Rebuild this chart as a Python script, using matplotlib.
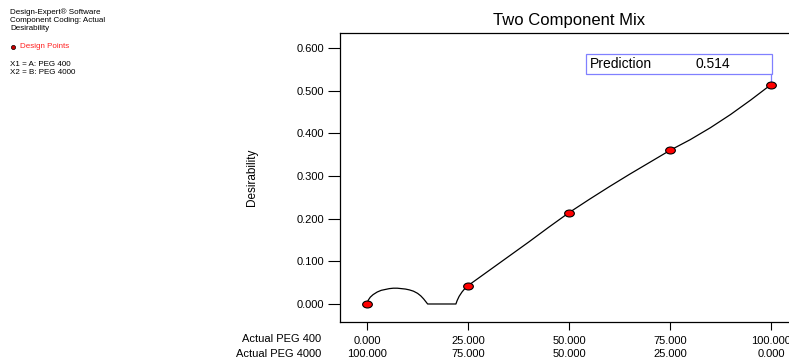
import numpy as np
import matplotlib
matplotlib.use("Agg")
import matplotlib.pyplot as plt
from matplotlib.path import Path
from matplotlib.transforms import Affine2D

plt.rcParams['font.family'] = ['Liberation Sans', 'DejaVu Sans']

# design points (A: PEG 400 %) and desirability
design_x = [0, 25, 50, 75, 100]
design_y = [0.0, 0.043, 0.214, 0.360, 0.514]

# desirability trace
curve_x = [0, 0.3, 0.8, 1.5, 2.5, 3.5, 4.5, 5.5, 6.5, 7.5, 8.5, 9.5, 10.5, 11.5,
           12.5, 13.3, 14.0, 14.5, 15.0, 18.0, 22.0, 22.3, 22.8, 23.5, 24.2, 25,
           30, 35, 40, 45, 50, 55, 60, 65, 70, 75, 80, 85, 90, 95, 100]
curve_y = [0.0, 0.009, 0.016, 0.022, 0.028, 0.032, 0.034, 0.036, 0.037, 0.037,
           0.036, 0.035, 0.033, 0.030, 0.025, 0.019, 0.012, 0.006, 0.0, 0.0, 0.0,
           0.008, 0.018, 0.028, 0.036, 0.043, 0.077, 0.111, 0.145, 0.180, 0.214,
           0.245, 0.275, 0.304, 0.332, 0.360, 0.385, 0.413, 0.444, 0.478, 0.514]

x_ticks = [0, 25, 50, 75, 100]
peg400_labels = ["0.000", "25.000", "50.000", "75.000", "100.000"]
peg4000_labels = ["100.000", "75.000", "50.000", "25.000", "0.000"]
y_ticks = [0.0, 0.1, 0.2, 0.3, 0.4, 0.5, 0.6]
prediction = 0.514

fig = plt.figure(figsize=(7.89, 3.6), dpi=100)
ax = fig.add_axes([340 / 789, 38 / 360, 458 / 789, 289 / 360])

ax.plot(curve_x, curve_y, color='black', lw=0.9, zorder=2)

ellipse = Path.unit_circle().transformed(Affine2D().scale(1.4, 1.0))
ax.plot(design_x, design_y, ls='none', marker=ellipse, markersize=7,
        markerfacecolor='#ff0000', markeredgecolor='black', markeredgewidth=0.8, zorder=4)

ax.set_xlim(-6.7, 106.7)
ax.set_ylim(-0.0422, 0.635)
ax.set_xticks(x_ticks)
ax.set_xticklabels([a + "\n" + b for a, b in zip(peg400_labels, peg4000_labels)],
                   fontsize=8)
for lab in ax.get_xticklabels():
    lab.set_linespacing(1.45)
ax.set_yticks(y_ticks)
ax.set_yticklabels(["%.3f" % v for v in y_ticks], fontsize=8)
ax.tick_params(axis='x', length=6, width=0.8, pad=4)
ax.tick_params(axis='y', length=8.6, width=0.8, pad=3)
ax.spines['right'].set_visible(False)
for s in ['left', 'bottom', 'top']:
    ax.spines[s].set_linewidth(0.9)

ax.set_ylabel("Desirability", fontsize=8.5)
ax.yaxis.set_label_coords(-0.18, 0.5)
fig.text(569 / 789, 1 - 20 / 360, "Two Component Mix", fontsize=12, ha='center', va='center')

fig.text(321 / 789, 1 - 339 / 360, "Actual PEG 400", fontsize=8, ha='right', va='center')
fig.text(321 / 789, 1 - 354 / 360, "Actual PEG 4000", fontsize=8, ha='right', va='center')

# prediction flag
box_l, box_r = 586, 772
box_t, box_b = 54, 74
fig.patches.append(plt.Rectangle((box_l / 789, 1 - box_b / 360), (box_r - box_l) / 789,
                                 (box_b - box_t) / 360, transform=fig.transFigure,
                                 fill=False, edgecolor='#8080ff', lw=0.9))
ax.plot([100, 100], [prediction, (304 - box_b) / 426.7], color='#8080ff', lw=0.9, zorder=3)
fig.text(590 / 789, 1 - 64 / 360, "Prediction", fontsize=10, ha='left', va='center')
fig.text(696 / 789, 1 - 64 / 360, "%.3f" % prediction, fontsize=10, ha='left', va='center')

# side legend
fs = 5.8
fig.text(10 / 789, 1 - 12 / 360, "Design-Expert\u00ae Software", fontsize=fs, va='center')
fig.text(10 / 789, 1 - 20.5 / 360, "Component Coding: Actual", fontsize=fs, va='center')
fig.text(10 / 789, 1 - 29 / 360, "Desirability", fontsize=fs, va='center')
fig.lines.append(plt.Line2D([13 / 789], [1 - 47 / 360], marker='o', markersize=3,
                            markerfacecolor='#cc0000', markeredgecolor='black',
                            markeredgewidth=0.5, transform=fig.transFigure))
fig.text(20 / 789, 1 - 47 / 360, "Design Points", fontsize=fs, color='#ff2020', va='center')
fig.text(10 / 789, 1 - 64 / 360, "X1 = A: PEG 400", fontsize=fs, va='center')
fig.text(10 / 789, 1 - 72.5 / 360, "X2 = B: PEG 4000", fontsize=fs, va='center')

fig.savefig("out.png", dpi=100)
